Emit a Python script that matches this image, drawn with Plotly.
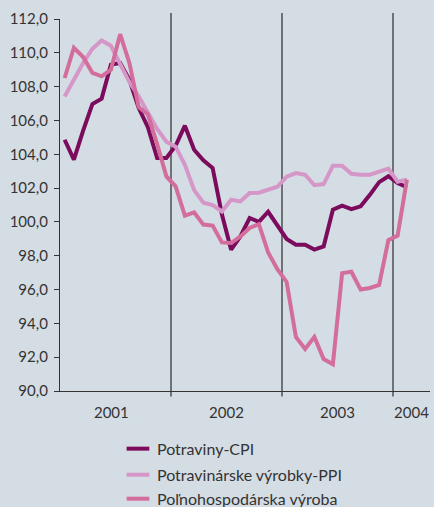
import plotly.graph_objects as go

# Monthly data Jan 2001 - Feb 2004
cpi = [104.86, 103.68, 105.4, 106.97, 107.29, 109.3, 109.4, 108.4, 106.75, 105.6,
       103.78, 103.78, 104.5, 105.69, 104.27, 103.64, 103.19, 100.45, 98.36, 99.14,
       100.23, 100.0, 100.6, 99.84, 98.99, 98.65, 98.65, 98.36, 98.55, 100.72,
       100.96, 100.76, 100.92, 101.6, 102.35, 102.7, 102.3, 102.05]
ppi = [107.42, 108.45, 109.4, 110.24, 110.73, 110.42, 109.4, 108.27, 107.43, 106.42,
       105.5, 104.74, 104.45, 103.38, 101.88, 101.14, 100.99, 100.62, 101.31, 101.21,
       101.71, 101.73, 101.9, 102.08, 102.67, 102.89, 102.79, 102.17, 102.24, 103.32,
       103.32, 102.85, 102.79, 102.79, 102.97, 103.15, 102.38, 102.5]
agri = [108.51, 110.3, 109.75, 108.82, 108.61, 109.0, 111.1, 109.4, 106.8, 106.35,
        104.6, 102.69, 102.1, 100.37, 100.56, 99.84, 99.78, 98.79, 98.75, 99.14,
        99.64, 99.87, 98.2, 97.2, 96.45, 93.2, 92.49, 93.2, 91.89, 91.58,
        96.97, 97.05, 96.0, 96.09, 96.27, 98.92, 99.19, 102.5]

series_names = ["Potraviny-CPI", "Potravinárske výrobky-PPI", "Poľnohospodárska výroba"]
series_colors = ["#7c0b5d", "#d596c8", "#d26d9c"]

year_labels = ["2001", "2002", "2003", "2004"]
year_label_pos = [5.05, 17.5, 29.5, 37.5]
year_boundaries = [11.5, 23.5, 35.5]

x = list(range(len(cpi)))

fig = go.Figure()
for name, vals, col in zip(series_names, [cpi, ppi, agri], series_colors):
    fig.add_trace(go.Scatter(x=x, y=vals, mode="lines", name=name,
                             line=dict(color=col, width=4)))

for b in year_boundaries:
    fig.add_shape(type="line", xref="x", yref="paper", x0=b, x1=b,
                  y0=-0.0145, y1=1.016, line=dict(color="#3a3a3a", width=1.3),
                  layer="below")

# manual legend (paper coordinates)
legend_y = [-0.155, -0.225, -0.2895]
for name, col, ly in zip(series_names, series_colors, legend_y):
    fig.add_shape(type="line", xref="paper", yref="paper", x0=0.180, x1=0.2414,
                  y0=ly, y1=ly, line=dict(color=col, width=4))
    fig.add_annotation(xref="paper", yref="paper", x=0.258, y=ly, text=name,
                       showarrow=False, xanchor="left", yanchor="middle",
                       font=dict(family="Lato", size=16, color="#333333"))

fig.update_layout(
    width=434, height=507,
    margin=dict(l=60, r=4, t=19, b=116),
    paper_bgcolor="#d5dde4", plot_bgcolor="#d5dde4",
    separators=", ",
    font=dict(family="Lato", size=15, color="#333333"),
    showlegend=False,
    xaxis=dict(range=[-0.5, 39.5], showgrid=False, zeroline=False, automargin=False,
               showline=True, linecolor="#333333", linewidth=1.3,
               tickmode="array", tickvals=year_label_pos, ticktext=year_labels,
               ticks="", ticklabelstandoff=8),
    yaxis=dict(range=[90, 112], showgrid=False, zeroline=False, automargin=False,
               showline=True, linecolor="#333333", linewidth=1.3,
               tickmode="linear", tick0=90, dtick=2, tickformat=".1f",
               ticks="outside", ticklen=5, tickcolor="#333333", tickwidth=1.3,
               ticklabelstandoff=3),
)

fig.write_html("out.html",
               config={"displayModeBar": False},
               post_script="document.body.style.margin='0';"
                           "document.body.style.background='#d5dde4';")
